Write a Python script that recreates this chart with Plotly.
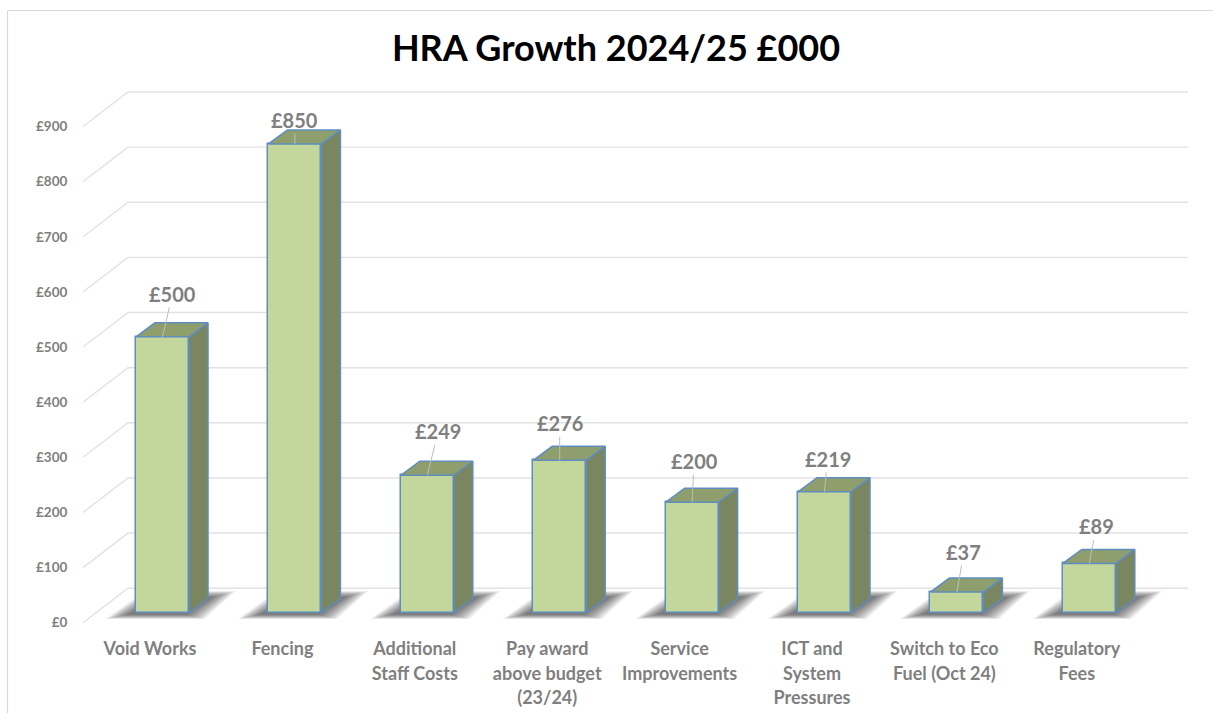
import plotly.graph_objects as go

title = "HRA Growth 2024/25 £000"
categories = ["Void Works", "Fencing", "Additional<br>Staff Costs", "Pay award<br>above budget<br>(23/24)",
              "Service<br>Improvements", "ICT and<br>System<br>Pressures", "Switch to Eco<br>Fuel (Oct 24)",
              "Regulatory<br>Fees"]
values = [500, 850, 249, 276, 200, 219, 37, 89]
y_ticks = [0, 100, 200, 300, 400, 500, 600, 700, 800, 900]

# label placement (pixels from top-centre of each bar's front face)
label_dx = [10, 0, 11, 0, 2, 3, 7, 7]
label_dy = [-43, -24, -44, -37, -41, -33, -40, -37]

# geometry in pixels
W, H = 1213, 713
L, R, T, B = 83, 1188, 88, 630
PITCH = 132.4
SCALE = 0.5513          # px per £
X0_BASE, Y0_BASE = 150.0, 622.7    # category 0 / £0 on the front floor edge
X0_BAR, Y0_BAR = 162.5, 612.5      # category 0 / £0 at the bar fronts
BAR_W = 53 / PITCH
DX, DY = 19 / PITCH, 14 / SCALE    # bar depth
WALL_DX, WALL_DY = 45 / PITCH, 34.5 / SCALE
FRONT, TOP, SIDE, EDGE = "#c3d69b", "#8e9e6d", "#7a8660", "#5f8dc0"
GRID, TEXT = "#e2e2e2", "#7f7f7f"
FONT = "Lato"

x_rng = lambda x0: [(L - x0) / PITCH, (R - x0) / PITCH]
y_rng = lambda y0: [(y0 - B) / SCALE, (y0 - T) / SCALE]
px2x = lambda px: (px - X0_BASE) / PITCH
px2y = lambda py: (Y0_BASE - py) / SCALE

fig = go.Figure()

# floor and wall gridlines
for v in y_ticks:
    fig.add_trace(go.Scatter(
        x=[px2x(L), px2x(L) + WALL_DX, px2x(R)], y=[v, v + WALL_DY, v + WALL_DY],
        mode="lines", line=dict(color=GRID, width=1.4), hoverinfo="skip", showlegend=False, cliponaxis=False))

# soft floor shadows
LAYERS = 14
for i in range(len(values)):
    c = X0_BAR + i * PITCH
    for k in range(LAYERS):
        t = k / (LAYERS - 1)
        bl = c - 57 + 22 * t; br = c + 42 - 18 * t
        tr = c + 73 - 22 * t; tl = c - 18 + 16 * t
        yb = 619 - 4.5 * t; yt = 591 + 6 * t
        fig.add_trace(go.Scatter(
            x=[px2x(bl), px2x(br), px2x(tr), px2x(tl), px2x(bl)],
            y=[px2y(yb), px2y(yb), px2y(yt), px2y(yt), px2y(yb)],
            mode="lines", fill="toself", fillcolor="rgba(40,40,40,0.06)",
            line=dict(width=0), hoverinfo="skip", showlegend=False))

# bar front faces
fig.add_trace(go.Bar(
    x=list(range(len(values))), y=values, width=BAR_W, xaxis="x2", yaxis="y2",
    marker=dict(color=FRONT, line=dict(color=EDGE, width=1.5)), showlegend=False,
    hovertemplate="£%{y}<extra></extra>"))

# bar side and top faces
for i, v in enumerate(values):
    xl, xr = i - BAR_W / 2, i + BAR_W / 2
    fig.add_trace(go.Scatter(
        x=[xr, xr + DX, xr + DX, xr, xr], y=[0, DY, v + DY, v, 0], xaxis="x2", yaxis="y2",
        mode="lines", fill="toself", fillcolor=SIDE, line=dict(color=EDGE, width=1.5),
        hoverinfo="skip", showlegend=False))
    fig.add_trace(go.Scatter(
        x=[xl, xr, xr + DX, xl + DX, xl], y=[v, v, v + DY, v + DY, v], xaxis="x2", yaxis="y2",
        mode="lines", fill="toself", fillcolor=TOP, line=dict(color=EDGE, width=1.5),
        hoverinfo="skip", showlegend=False))

annotations = [
    dict(x=i, y=v, xref="x2", yref="y2", text=f"£{v}", showarrow=True, arrowhead=0, arrowwidth=1,
         arrowcolor="#bdbdbd", ax=label_dx[i], ay=label_dy[i], axref="pixel", ayref="pixel",
         font=dict(family=FONT, size=20, color=TEXT, weight=700))
    for i, v in enumerate(values)
]

shapes = [
    dict(type="line", xref="paper", yref="paper", layer="below",
         x0=(7.5 - L) / (R - L), x1=(W - L) / (R - L),
         y0=(B - 10.5) / (B - T), y1=(B - 10.5) / (B - T), line=dict(color="#d9d9d9", width=1.2)),
    dict(type="line", xref="paper", yref="paper", layer="below",
         x0=(7.5 - L) / (R - L), x1=(7.5 - L) / (R - L),
         y0=(B - 10.5) / (B - T), y1=(B - H) / (B - T), line=dict(color="#d9d9d9", width=1.2)),
]

# large base size sets the line spacing of the wrapped tick labels; the span sets the glyph size
tick_text = ['<br>'.join(f'<span style="font-size:18px">{s}</span>' for s in c.split("<br>")) for c in categories]

fig.update_layout(
    width=W, height=H, autosize=False, margin=dict(l=L, r=W - R, t=T, b=H - B, autoexpand=False),
    paper_bgcolor="white", plot_bgcolor="rgba(0,0,0,0)", showlegend=False, bargap=0,
    title=dict(text=title, x=616 / W, xanchor="center", y=1 - 48 / H, yanchor="middle",
               font=dict(family=FONT, size=36, color="#000000", weight=700)),
    xaxis=dict(range=x_rng(X0_BASE), tickvals=list(range(len(categories))), ticktext=tick_text,
               showgrid=False, zeroline=False, showline=False, ticks="outside", ticklen=1,
               tickcolor="rgba(0,0,0,0)", fixedrange=True, automargin=False,
               tickfont=dict(family=FONT, size=19, color=TEXT, weight=700)),
    yaxis=dict(range=y_rng(Y0_BASE), tickvals=y_ticks, ticktext=[f"£{v}" for v in y_ticks], showgrid=False,
               zeroline=False, showline=False, ticks="outside", ticklen=12, tickcolor="rgba(0,0,0,0)",
               fixedrange=True, automargin=False,
               tickfont=dict(family=FONT, size=13.5, color=TEXT, weight=700)),
    xaxis2=dict(range=x_rng(X0_BAR), overlaying="x", visible=False, fixedrange=True),
    yaxis2=dict(range=y_rng(Y0_BAR), overlaying="y", visible=False, fixedrange=True),
    annotations=annotations, shapes=shapes,
)

fig.write_html("out.html", config=dict(displayModeBar=False),
               post_script="document.body.style.margin='0';document.body.style.overflow='hidden';")
